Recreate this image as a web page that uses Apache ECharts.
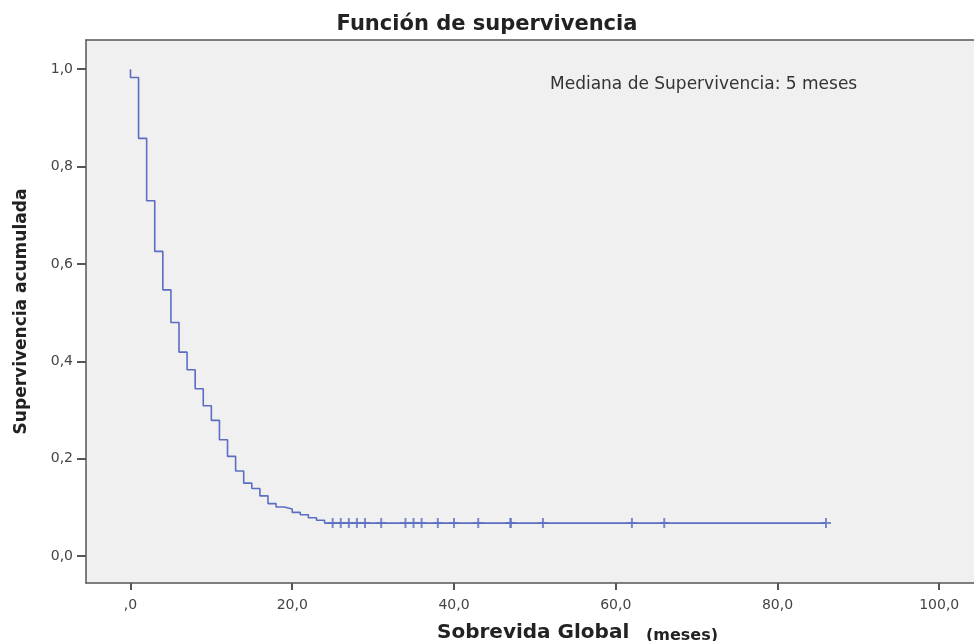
<!DOCTYPE html>
<html>
<head>
<meta charset="utf-8">
<title>Función de supervivencia</title>
<script src="https://cdn.jsdelivr.net/npm/echarts@6/dist/echarts.min.js"></script>
<style>
	html, body { margin: 0; padding: 0; background: #fff; }
	#chart { width: 974px; height: 641px; }
</style>
</head>
<body>
<div id="chart"></div>
<script>
// tiempos (meses) y supervivencia acumulada después de cada evento
var eventTimes = [0, 0, 1, 2, 3, 4, 5, 6, 7, 8, 9, 10, 11, 12, 13, 14, 15, 16, 17, 18, 19, 20, 21, 22, 23, 24, 86];
var survival = [1.0, 0.983, 0.858, 0.730, 0.626, 0.547, 0.480, 0.419, 0.383, 0.344, 0.309, 0.279, 0.239, 0.205,
	0.175, 0.150, 0.139, 0.124, 0.108, 0.101, 0.097, 0.090, 0.085, 0.079, 0.074, 0.068, 0.068];
// casos censurados
var censorTimes = [25, 26, 27, 28, 29, 31, 34, 35, 36, 38, 40, 43, 47, 47, 51, 62, 66, 86];
var xTicks = [0, 20, 40, 60, 80, 100];
var yTicks = [0, 0.2, 0.4, 0.6, 0.8, 1.0];

function survivalAt(t) {
	var s = survival[0];
	for (var i = 0; i < eventTimes.length; i++) {
		if (eventTimes[i] <= t) s = survival[i];
	}
	return s;
}

var curve = eventTimes.map(function(t, i) { return [t, survival[i]]; });
var censored = censorTimes.map(function(t) { return [t, survivalAt(t)]; });

var ec = echarts.init(document.getElementById('chart'));
var axisColor = '#555';
var lineBlue = '#5b6ec2';

let option = {
	animation: false,
	backgroundColor: '#fff',
	title: {
		text: 'Función de supervivencia',
		left: 'center',
		top: 9,
		textStyle: {
			fontFamily: 'DejaVu Sans',
			fontWeight: 'bold',
			fontSize: 21,
			color: '#222'
		}
	},
	grid: {
		left: 86,
		top: 40,
		right: 0,
		bottom: 58,
		outerBoundsMode: 'none',
		show: true,
		backgroundColor: '#f0f0f0',
		borderWidth: 0
	},
	xAxis: [{
		type: 'value',
		min: -5.5,
		max: 104.3,
		splitLine: { show: false },
		axisLine: { show: true, onZero: false, lineStyle: { color: axisColor, width: 1.5 } },
		axisTick: { show: true, inside: false, customValues: xTicks, length: 7, lineStyle: { color: axisColor, width: 2 } },
		axisLabel: {
			show: true,
			customValues: xTicks,
			formatter: function(v) { return v === 0 ? ',0' : v.toFixed(1).replace('.', ','); },
			color: '#444',
			fontFamily: 'DejaVu Sans',
			fontSize: 14,
			margin: 15
		}
	}, {
		type: 'value',
		position: 'top',
		min: -5.5,
		max: 104.3,
		splitLine: { show: false },
		axisLine: { show: true, onZero: false, lineStyle: { color: axisColor, width: 1.5 } },
		axisTick: { show: false },
		axisLabel: { show: false }
	}],
	yAxis: {
		type: 'value',
		min: -0.055,
		max: 1.06,
		name: 'Supervivencia acumulada',
		nameLocation: 'middle',
		nameRotate: 90,
		nameGap: 56,
		nameTextStyle: {
			fontFamily: 'DejaVu Sans',
			fontWeight: 'bold',
			fontSize: 17,
			color: '#222'
		},
		splitLine: { show: false },
		axisLine: { show: true, onZero: false, lineStyle: { color: axisColor, width: 1.5 } },
		axisTick: { show: true, inside: false, customValues: yTicks, length: 9, lineStyle: { color: axisColor, width: 2 } },
		axisLabel: {
			customValues: yTicks,
			formatter: function(v) { return v.toFixed(1).replace('.', ','); },
			color: '#444',
			fontFamily: 'DejaVu Sans',
			fontSize: 14,
			margin: 13
		}
	},
	graphic: [{
		type: 'text',
		left: 550,
		top: 76,
		style: {
			text: 'Mediana de Supervivencia: 5 meses',
			fontFamily: 'DejaVu Sans',
			fontSize: 17,
			fill: '#333'
		}
	}, {
		type: 'text',
		left: 437,
		top: 623,
		style: {
			text: 'Sobrevida Global',
			fontFamily: 'DejaVu Sans',
			fontWeight: 'bold',
			fontSize: 20,
			fill: '#222'
		}
	}, {
		type: 'text',
		left: 646,
		top: 628,
		style: {
			text: '(meses)',
			fontFamily: 'DejaVu Sans',
			fontWeight: 'bold',
			fontSize: 16,
			fill: '#222'
		}
	}],
	series: [{
		type: 'line',
		step: 'end',
		data: curve,
		showSymbol: false,
		lineStyle: { color: lineBlue, width: 1.6 },
		z: 2
	}, {
		type: 'scatter',
		data: censored,
		symbol: 'path://M4,0H6V4H10V6H6V10H4V6H0V4H4Z',
		symbolSize: 10,
		itemStyle: { color: lineBlue },
		z: 3
	}]
};
ec.setOption(option);
</script>
</body>
</html>
